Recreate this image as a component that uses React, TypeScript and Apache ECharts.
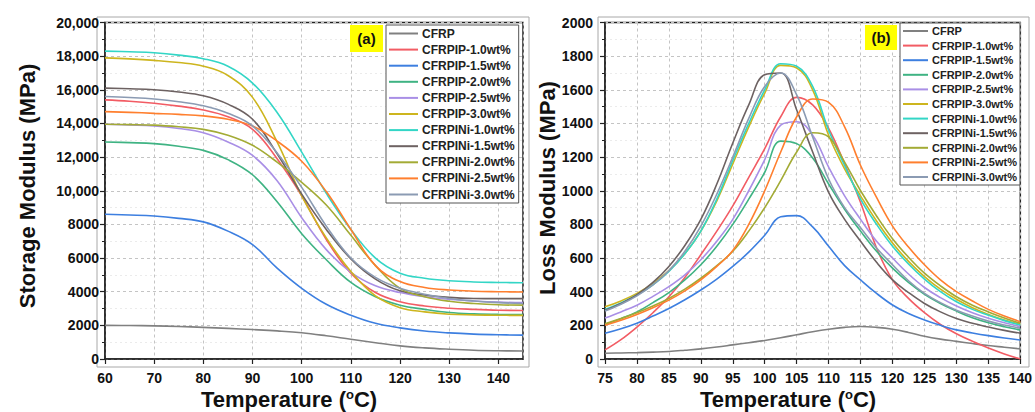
import React, { useEffect, useRef } from "react";
import * as echarts from "echarts";

const FONT = "'Liberation Sans', Arial, Helvetica, sans-serif";

const seriesNames = [
  "CFRP",
  "CFRPIP-1.0wt%",
  "CFRPIP-1.5wt%",
  "CFRPIP-2.0wt%",
  "CFRPIP-2.5wt%",
  "CFRPIP-3.0wt%",
  "CFRPINi-1.0wt%",
  "CFRPINi-1.5wt%",
  "CFRPINi-2.0wt%",
  "CFRPINi-2.5wt%",
  "CFRPINi-3.0wt%",
];
const seriesColors = [
  "#808080",
  "#f25c64",
  "#3d7fe0",
  "#3fb383",
  "#a98fe6",
  "#cdb51e",
  "#33d6c6",
  "#6d6262",
  "#a3ab35",
  "#ff7f2e",
  "#8b9bb3",
];

// (a) Storage modulus (MPa) vs temperature (°C)
const tempA = [60, 65, 70, 75, 80, 85, 90, 95, 100, 105, 110, 115, 120, 125, 130, 135, 140, 145];
const storageCFRP = [2000, 1990, 1970, 1930, 1880, 1820, 1750, 1670, 1560, 1380, 1170, 970, 780, 660, 580, 520, 490, 475];
const storageIP10 = [15400, 15320, 15200, 15030, 14800, 14400, 13650, 11900, 9700, 7100, 5100, 3950, 3400, 3150, 3020, 2950, 2900, 2880];
const storageIP15 = [8600, 8560, 8500, 8360, 8150, 7600, 6800, 5400, 4200, 3250, 2600, 2120, 1850, 1660, 1550, 1480, 1440, 1420];
const storageIP20 = [12900, 12860, 12800, 12640, 12400, 11850, 10950, 9350, 7450, 5900, 4550, 3700, 3200, 2950, 2760, 2680, 2650, 2645];
const storageIP25 = [13950, 13910, 13850, 13700, 13450, 12900, 12100, 10600, 8400, 6500, 5150, 4350, 3950, 3700, 3550, 3450, 3380, 3350];
const storageIP30 = [17900, 17840, 17750, 17620, 17400, 16850, 15550, 12900, 9700, 7200, 5200, 3750, 3050, 2800, 2660, 2620, 2600, 2590];
const storageNi10 = [18300, 18260, 18200, 18060, 17850, 17400, 16400, 14650, 12300, 9850, 7700, 6000, 5100, 4800, 4650, 4580, 4550, 4530];
const storageNi15 = [16100, 16060, 16000, 15870, 15650, 15150, 14250, 12200, 9800, 7700, 5950, 4750, 4050, 3800, 3660, 3600, 3590, 3590];
const storageNi20 = [13950, 13930, 13900, 13800, 13650, 13300, 12700, 11700, 10500, 9150, 7350, 5550, 4200, 3700, 3430, 3300, 3220, 3200];
const storageNi25 = [14700, 14660, 14600, 14540, 14450, 14250, 13850, 12950, 11750, 9950, 7700, 5550, 4600, 4250, 4100, 4030, 4000, 3980];
const storageNi30 = [15600, 15540, 15450, 15290, 15050, 14600, 13850, 12250, 10200, 7900, 6000, 4850, 4200, 3850, 3600, 3450, 3350, 3300];

// (b) Loss modulus (MPa) vs temperature (°C)
const tempB = [75, 77.5, 80, 82.5, 85, 87.5, 90, 92.5, 95, 97.5, 100, 102.5, 105, 107.5, 110, 112.5, 115, 117.5, 120, 122.5, 125, 127.5, 130, 132.5, 135, 137.5, 140];
const lossCFRP = [34, 36, 38, 41, 45, 52, 60, 71, 84, 97, 110, 126, 144, 162, 177, 188, 193, 188, 177, 158, 135, 118, 105, 92, 80, 70, 60];
const lossIP10 = [54, 115, 190, 275, 370, 485, 620, 760, 910, 1080, 1250, 1440, 1555, 1510, 1370, 1160, 930, 660, 470, 360, 275, 205, 150, 105, 65, 30, 0];
const lossIP15 = [153, 180, 213, 255, 300, 352, 410, 475, 550, 635, 735, 845, 852, 785, 670, 555, 470, 390, 321, 270, 232, 200, 173, 155, 139, 125, 113];
const lossIP20 = [205, 240, 280, 335, 395, 470, 560, 670, 800, 950, 1110, 1295, 1280, 1195, 1040, 890, 760, 640, 540, 455, 385, 330, 285, 245, 215, 192, 173];
const lossIP25 = [243, 280, 320, 372, 430, 500, 590, 700, 830, 1000, 1185, 1390, 1410, 1330, 1140, 970, 830, 700, 600, 505, 425, 365, 315, 275, 242, 215, 193];
const lossIP30 = [310, 345, 390, 450, 525, 625, 760, 940, 1160, 1380, 1580, 1745, 1730, 1600, 1330, 1130, 970, 820, 690, 580, 490, 415, 355, 305, 265, 232, 205];
const lossNi10 = [295, 333, 380, 440, 520, 625, 760, 950, 1180, 1400, 1600, 1755, 1740, 1620, 1360, 1150, 950, 800, 670, 565, 475, 400, 340, 295, 260, 228, 202];
const lossNi15 = [290, 330, 382, 455, 550, 675, 830, 1040, 1284, 1510, 1690, 1700, 1480, 1230, 990, 830, 700, 575, 470, 395, 330, 280, 240, 212, 190, 170, 153];
const lossNi20 = [210, 240, 275, 315, 360, 415, 480, 555, 640, 760, 900, 1060, 1230, 1345, 1320, 1170, 1000, 850, 715, 605, 510, 435, 370, 320, 280, 244, 212];
const lossNi25 = [200, 230, 265, 305, 350, 405, 470, 550, 645, 800, 1000, 1230, 1440, 1545, 1525, 1380, 1150, 960, 790, 665, 560, 470, 400, 345, 295, 255, 222];
const lossNi30 = [285, 325, 375, 440, 525, 640, 790, 980, 1200, 1430, 1620, 1700, 1570, 1320, 1070, 900, 780, 660, 560, 465, 390, 335, 290, 255, 225, 202, 183];

const storageSets = [
  storageCFRP, storageIP10, storageIP15, storageIP20, storageIP25, storageIP30,
  storageNi10, storageNi15, storageNi20, storageNi25, storageNi30,
];
const lossSets = [
  lossCFRP, lossIP10, lossIP15, lossIP20, lossIP25, lossIP30,
  lossNi10, lossNi15, lossNi20, lossNi25, lossNi30,
];

function makeSeries(name: string, color: string, temps: number[], vals: number[], idx: number) {
  return {
    name,
    type: "line",
    xAxisIndex: idx,
    yAxisIndex: idx,
    data: temps.map((t, i) => [t, vals[i]]),
    smooth: 0.4,
    showSymbol: false,
    symbol: "none",
    color,
    lineStyle: { width: 1.6, color },
    itemStyle: { color },
    emphasis: { disabled: true },
  };
}

const axisLineStyle = { show: true, onZero: false, lineStyle: { color: "#222", width: 1.5 } };
const labelStyle = { color: "#111", fontSize: 14, fontWeight: "bold", fontFamily: FONT };
const splitStyle = { show: true, lineStyle: { color: "#c4c4c4", type: [3, 3], width: 1 } };
const minorSplitStyle = { show: true, lineStyle: { color: "#ebebeb", type: [2, 3], width: 1 } };

function thousands(v: number) {
  if (v >= 10000) return String(v).replace(/\B(?=(\d{3})+(?!\d))/g, ",");
  return String(v);
}

function plain(v: number) {
  return String(v);
}

export default function App() {
  const ref = useRef<HTMLDivElement>(null);
  useEffect(() => {
    if (!ref.current) return;
    const chart = echarts.init(ref.current, undefined, { renderer: "svg" });
    const series: any[] = [];
    seriesNames.forEach((n, i) => series.push(makeSeries(n, seriesColors[i], tempA, storageSets[i], 0)));
    seriesNames.forEach((n, i) => series.push(makeSeries(n, seriesColors[i], tempB, lossSets[i], 1)));

    const legendCommon = {
      orient: "vertical",
      icon: "rect",
      backgroundColor: "#fff",
      borderColor: "#555",
      borderWidth: 1,
      borderRadius: 0,
      selectedMode: false,
      data: seriesNames,
    };

    const titleRich = {
      n: { fontSize: 22, fontWeight: "bold", fontFamily: FONT, fill: "#111", lineHeight: 23 },
      s: { fontSize: 13, fontWeight: "bold", fontFamily: FONT, fill: "#111", lineHeight: 23, verticalAlign: "top" },
    };

    const option: any = {
      animation: false,
      backgroundColor: "#fff",
      textStyle: { fontFamily: FONT },
      grid: [
        { left: 105, top: 22.5, width: 418, height: 336.5, show: true, borderColor: "#222", borderWidth: 1.5, backgroundColor: "transparent" },
        { left: 605, top: 22.5, width: 418, height: 336.5, show: true, borderColor: "#222", borderWidth: 1.5, backgroundColor: "transparent" },
      ],
      xAxis: [
        {
          type: "value", gridIndex: 0, min: 60, max: 145, interval: 10,
          axisLine: axisLineStyle,
          axisTick: { show: true, length: 5, lineStyle: { color: "#222", width: 1.2 } },
          axisLabel: { ...labelStyle, margin: 12, showMaxLabel: false },
          splitLine: splitStyle,
        },
        {
          type: "value", gridIndex: 1, min: 75, max: 140, interval: 5,
          axisLine: axisLineStyle,
          axisTick: { show: true, length: 5, lineStyle: { color: "#222", width: 1.2 } },
          axisLabel: { ...labelStyle, margin: 12 },
          splitLine: splitStyle,
        },
      ],
      yAxis: [
        {
          type: "value", gridIndex: 0, min: 0, max: 20000, interval: 2000,
          axisLine: axisLineStyle,
          axisTick: { show: true, length: 5, lineStyle: { color: "#222", width: 1.2 } },
          minorTick: { show: true, splitNumber: 2, length: 3, lineStyle: { color: "#222", width: 1 } },
          axisLabel: { ...labelStyle, margin: 6, formatter: thousands },
          splitLine: splitStyle,
          minorSplitLine: minorSplitStyle,
        },
        {
          type: "value", gridIndex: 1, min: 0, max: 2000, interval: 200,
          axisLine: axisLineStyle,
          axisTick: { show: true, length: 5, lineStyle: { color: "#222", width: 1.2 } },
          minorTick: { show: true, splitNumber: 2, length: 3, lineStyle: { color: "#222", width: 1 } },
          axisLabel: { ...labelStyle, margin: 12, formatter: plain },
          splitLine: splitStyle,
          minorSplitLine: minorSplitStyle,
        },
      ],
      legend: [
        {
          ...legendCommon,
          left: 386, top: 25,
          padding: [2, 4, 2, 3],
          itemWidth: 29, itemHeight: 2, itemGap: 3.1,
          textStyle: { fontSize: 12, fontWeight: "bold", color: "#222", fontFamily: FONT, lineHeight: 13, padding: [0, 0, 0, -1] },
        },
        {
          ...legendCommon,
          left: 900, top: 23,
          padding: [2, 3, 2, 3],
          itemWidth: 25, itemHeight: 2, itemGap: 2.6,
          textStyle: { fontSize: 11, fontWeight: "bold", color: "#222", fontFamily: FONT, lineHeight: 12, padding: [0, 0, 0, -1] },
        },
      ],
      graphic: [
        { type: "rect", silent: true, shape: { x: 97, y: 17, width: 432, height: 350 }, style: { fill: "none", stroke: "#a8a8a8", lineWidth: 1 } },
        { type: "rect", silent: true, shape: { x: 598, y: 17, width: 431, height: 350 }, style: { fill: "none", stroke: "#a8a8a8", lineWidth: 1 } },
        { type: "rect", silent: true, z: 100, shape: { x: 350, y: 25, width: 33, height: 27 }, style: { fill: "#ffff00" } },
        { type: "text", silent: true, z: 101, x: 366.5, y: 38.5, style: { text: "(a)", fontSize: 15, fontWeight: "bold", fontFamily: FONT, fill: "#111", align: "center", verticalAlign: "middle" } },
        { type: "rect", silent: true, z: 100, shape: { x: 865, y: 25, width: 32, height: 25 }, style: { fill: "#ffff00" } },
        { type: "text", silent: true, z: 101, x: 881, y: 37.5, style: { text: "(b)", fontSize: 15, fontWeight: "bold", fontFamily: FONT, fill: "#111", align: "center", verticalAlign: "middle" } },
        {
          type: "text", silent: true, x: 289, y: 399,
          style: { text: "{n|Temperature (}{s|o}{n|C)}", align: "center", verticalAlign: "middle", rich: titleRich },
        },
        {
          type: "text", silent: true, x: 788, y: 399,
          style: { text: "{n|Temperature (}{s|o}{n|C)}", align: "center", verticalAlign: "middle", rich: titleRich },
        },
        {
          type: "text", silent: true, x: 27, y: 186, rotation: Math.PI / 2,
          style: { text: "Storage Modulus (MPa)", fontSize: 22, fontWeight: "bold", fontFamily: FONT, fill: "#111", align: "center", verticalAlign: "middle" },
        },
        {
          type: "text", silent: true, x: 547, y: 188, rotation: Math.PI / 2,
          style: { text: "Loss Modulus (MPa)", fontSize: 22, fontWeight: "bold", fontFamily: FONT, fill: "#111", align: "center", verticalAlign: "middle" },
        },
      ],
      series,
    };
    chart.setOption(option);
    return () => chart.dispose();
  }, []);
  return (
    <div
      ref={ref}
      style={{ position: "fixed", left: 0, top: 0, width: 1035, height: 412, background: "#fff" }}
    />
  );
}
